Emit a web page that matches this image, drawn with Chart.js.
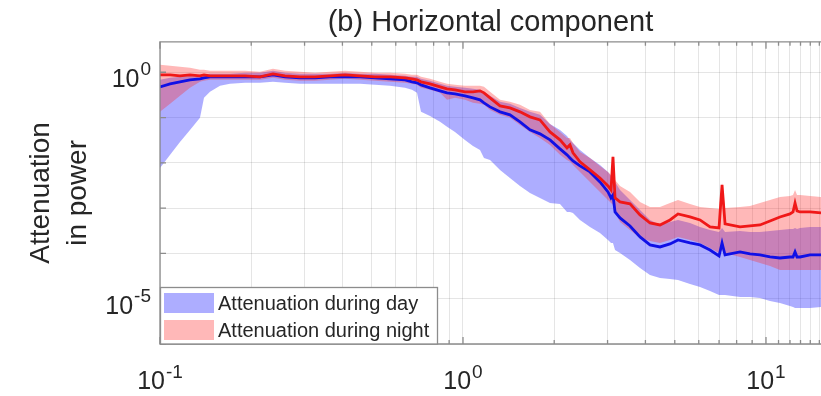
<!DOCTYPE html>
<html><head><meta charset="utf-8">
<script src="https://cdn.jsdelivr.net/npm/chart.js@4/dist/chart.umd.min.js"></script>
<style>html,body{margin:0;padding:0;background:#fff;overflow:hidden}</style>
</head><body>
<canvas id="c" width="821" height="396"></canvas>
<script>
// Frequency (Hz) sample points
const freq = [0.1,0.108,0.1164,0.1256,0.1355,0.1397,0.1462,0.1578,0.1702,0.1908,
0.2138,0.236,0.2586,0.2897,0.3248,0.364,0.4079,0.4572,0.5124,0.5742,
0.6436,0.6787,0.705,0.7268,0.7783,0.8398,0.8857,0.941,1.015,1.079,
1.138,1.173,1.228,1.325,1.429,1.542,1.664,1.795,1.937,2.09,
2.204,2.255,2.307,2.433,2.625,2.832,3.01,3.08,3.126,3.175,
3.298,3.558,3.839,4.142,4.469,4.822,5.124,5.614,6.057,6.535,
6.999,7.161,7.326,8.209,8.857,9.555,10.31,11.12,12.0,12.28,
12.47,12.66,12.95,13.98,15.19];

const dayMedian = [0.476,0.554,0.614,0.679,0.715,0.752,0.791,0.791,0.791,0.791,
0.791,0.876,0.791,0.752,0.752,0.791,0.791,0.791,0.752,0.715,
0.679,0.614,0.583,0.527,0.452,0.388,0.351,0.333,0.301,0.272,
0.2456,0.2108,0.1719,0.1334,0.1145,0.0802,0.0534,0.0436,0.0321,0.0203,
0.0150,0.0128,0.0110,0.00855,0.0063,0.00379,0.00228,0.00168,0.00195,0.000823,
0.000607,0.000404,0.000231,0.000154,0.000139,0.000162,0.000198,0.00017,0.000154,0.000119,
8.78e-5,1.7e-4,9.24e-5,1.08e-4,9.72e-5,9.24e-5,8.34e-5,7.93e-5,8.34e-5,8.34e-5,
1.08e-4,8.34e-5,8.34e-5,9.24e-5,9.24e-5];

const dayLow = [0.00772,0.0150,0.029,0.0534,0.0983,0.272,0.369,0.501,0.554,0.583,
0.583,0.614,0.583,0.554,0.554,0.554,0.554,0.554,0.527,0.501,
0.452,0.409,0.351,0.1334,0.1088,0.0802,0.0622,0.0482,0.0321,0.0236,
0.0193,0.0128,0.0116,0.00697,0.00464,0.00309,0.00216,0.00168,0.0013,0.00124,
0.000823,0.000823,0.000782,0.000548,0.000384,0.000283,0.000198,0.00017,0.00017,0.000119,
0.000102,7.16e-5,4.77e-5,3.34e-5,2.87e-5,2.72e-5,2.59e-5,2.11e-5,1.81e-5,1.48e-5,
1.21e-5,1.21e-5,1.21e-5,1.09e-5,1.09e-5,1.04e-5,8.9e-6,8.0e-6,6.9e-6,6.6e-6,
6.2e-6,6.2e-6,6.2e-6,6.2e-6,6.6e-6];

const dayHigh = [0.679,0.752,0.791,0.833,0.876,0.876,0.922,0.922,0.922,0.970,
0.970,1.074,0.970,0.922,0.922,0.922,0.970,0.922,0.922,0.876,
0.833,0.791,0.791,0.715,0.646,0.554,0.501,0.476,0.452,0.430,
0.409,0.369,0.301,0.2218,0.2003,0.1634,0.1334,0.1145,0.0724,0.0534,
0.0393,0.0321,0.0275,0.0193,0.0128,0.009,0.0063,0.00514,0.00514,0.00379,
0.00252,0.00152,0.000911,0.000548,0.000425,0.000495,0.000548,0.00047,0.000384,0.000329,
0.000298,0.000365,0.000298,0.000313,0.000298,0.000298,0.000313,0.000329,0.000347,0.000347,
0.000365,0.000347,0.000365,0.000384,0.000384];

const nightMedian = [0.876,0.876,0.833,0.876,0.833,0.876,0.833,0.833,0.833,0.833,
0.791,0.922,0.833,0.791,0.791,0.833,0.876,0.833,0.791,0.791,
0.752,0.715,0.679,0.614,0.554,0.476,0.430,0.409,0.369,0.369,
0.388,0.351,0.272,0.1809,0.1634,0.1334,0.1034,0.0888,0.0482,0.0321,
0.0214,0.0249,0.0166,0.0105,0.00697,0.00464,0.00309,0.00252,0.0135,0.00168,
0.00137,0.00124,0.000707,0.00047,0.000425,0.000548,0.000743,0.000638,0.000548,0.000384,
0.000365,0.00325,0.000447,0.000384,0.000404,0.000425,0.000521,0.000638,0.000743,0.000823,
0.0013,0.000866,0.000823,0.000823,0.000782];

const nightLow = [0.1334,0.2003,0.301,0.452,0.614,0.646,0.679,0.679,0.679,0.679,
0.679,0.752,0.679,0.646,0.646,0.679,0.715,0.679,0.646,0.614,
0.583,0.554,0.527,0.452,0.409,0.351,0.2456,0.272,0.2456,0.2108,
0.2003,0.1904,0.1476,0.1145,0.0983,0.0688,0.0482,0.0355,0.0249,0.015,
0.0116,0.0105,0.009,0.0063,0.00379,0.00228,0.00152,0.0013,0.00118,0.000823,
0.000495,0.000329,0.000219,0.000188,0.00017,0.000198,0.000231,0.000198,0.00017,0.000132,
0.000102,0.000119,0.000102,8.34e-5,7.16e-5,6.15e-5,5.28e-5,4.31e-5,4.31e-5,4.31e-5,
4.31e-5,4.31e-5,4.31e-5,4.31e-5,4.31e-5];

const nightHigh = [1.457,1.385,1.316,1.251,1.130,1.130,1.074,1.074,1.074,1.074,
1.020,1.189,1.074,1.020,0.970,1.020,1.074,1.020,0.970,0.970,
0.922,0.876,0.876,0.791,0.715,0.614,0.554,0.527,0.501,0.501,
0.501,0.476,0.369,0.2456,0.2218,0.1904,0.1476,0.1334,0.0724,0.0482,
0.0355,0.0355,0.0275,0.0174,0.0128,0.00855,0.0063,0.00541,0.015,0.00419,
0.00309,0.00228,0.00137,0.00106,0.00106,0.0013,0.00152,0.00124,0.00106,0.00101,
0.000959,0.0036,0.00101,0.00106,0.00112,0.0013,0.00152,0.00177,0.00186,0.00195,
0.00252,0.00195,0.00195,0.00186,0.00177];

const xTickValues = [0.1,0.2,0.3,0.4,0.5,0.6,0.7,0.8,0.9,1,2,3,4,5,6,7,8,9,10,11,12,13,14,15];
const xTickLabels = [[0.1,'-1'],[1,'0'],[10,'1']];   // shown as 10^exponent
const yTickValues = [1e-6,1e-5,1e-4,1e-3,1e-2,1e-1,1];
const yTickLabels = [[1,'0'],[1e-5,'-5']];
const legendLabels = ['Attenuation during day','Attenuation during night'];

const DAY_BAND = 'rgba(60,60,255,0.42)';
const NIGHT_BAND = 'rgba(255,40,40,0.33)';
const FONT = "'Liberation Sans', Arial, sans-serif";
const TEXT = '#262626';

Chart.defaults.font.family = FONT;
Chart.defaults.color = TEXT;

const pts = arr => freq.map((f,i)=>({x:f,y:arr[i]}));
const findLabel = (table, v) => { for (const [k,s] of table) if (Math.abs(v-k) < k*1e-6) return s; return null; };
const isDecade = v => Math.abs(Math.log10(v) - Math.round(Math.log10(v))) < 1e-6;

function drawPow(ctx, exp, x, baseY, expY, align){
  ctx.font = '25px ' + FONT;
  const wb = ctx.measureText('10').width;
  ctx.font = '19px ' + FONT;
  const we = ctx.measureText(exp).width;
  const w = wb + 1 + we;
  const x0 = align === 'right' ? x - w : x - w/2;
  ctx.textAlign = 'left'; ctx.textBaseline = 'alphabetic';
  ctx.font = '25px ' + FONT; ctx.fillText('10', x0, baseY);
  ctx.font = '19px ' + FONT; ctx.fillText(exp, x0 + wb + 1, expY);
}

const framePlugin = {
  id:'frame',
  afterDatasetsDraw(chart){
    const {ctx, chartArea:a, scales:{x,y}} = chart;
    ctx.save();
    ctx.strokeStyle = '#8c8c8c'; ctx.lineWidth = 1.3;
    ctx.beginPath();
    x.ticks.forEach(t=>{
      const px = x.getPixelForValue(t.value);
      const L = isDecade(t.value) ? 7 : 4;
      ctx.moveTo(px,a.bottom); ctx.lineTo(px,a.bottom-L);
      ctx.moveTo(px,a.top); ctx.lineTo(px,a.top+L);
    });
    y.ticks.forEach(t=>{
      const py = y.getPixelForValue(t.value);
      ctx.moveTo(a.left,py); ctx.lineTo(a.left+6,py);
    });
    ctx.stroke();
    ctx.beginPath();
    ctx.moveTo(a.right+5, a.top); ctx.lineTo(a.left, a.top); ctx.lineTo(a.left, a.bottom); ctx.lineTo(a.right+5, a.bottom);
    ctx.stroke();
    // tick labels as 10 with superscript exponent
    ctx.fillStyle = TEXT;
    x.ticks.forEach(t=>{
      const e = findLabel(xTickLabels, t.value);
      if (e === null) return;
      drawPow(ctx, e, x.getPixelForValue(t.value), a.bottom + 45, a.bottom + 34, 'center');
    });
    y.ticks.forEach(t=>{
      const e = findLabel(yTickLabels, t.value);
      if (e === null) return;
      const py = y.getPixelForValue(t.value);
      drawPow(ctx, e, a.left - 9, py + 15, py + 3, 'right');
    });
    ctx.restore();
  }
};

const legendPlugin = {
  id:'bandLegend',
  afterDraw(chart){
    const {ctx, chartArea:a} = chart;
    const items = chart.data.datasets.filter(d=>d.legendEntry);
    const x0 = a.left, w = 277, h = 57, y0 = a.bottom - h;
    ctx.save();
    ctx.fillStyle = '#fff';
    ctx.fillRect(x0, y0, w, h);
    ctx.strokeStyle = '#8c8c8c'; ctx.lineWidth = 1.3;
    ctx.strokeRect(x0+0.5, y0+0.5, w, h-0.5);
    ctx.font = '20px ' + FONT;
    ctx.textBaseline = 'middle'; ctx.textAlign = 'left';
    items.forEach((d,i)=>{
      const cy = y0 + 16 + i*27;
      ctx.fillStyle = d.backgroundColor;
      ctx.fillRect(x0+4, cy-10, 50, 20);
      ctx.fillStyle = TEXT;
      ctx.fillText(d.legendEntry, x0+58, cy+1);
    });
    ctx.restore();
  }
};

new Chart(document.getElementById('c'), {
  type:'line',
  data:{
    datasets:[
      {data:pts(dayLow), borderWidth:0, pointRadius:0, pointHitRadius:0, fill:false, order:5, backgroundColor:'transparent'},
      {data:pts(dayHigh), borderWidth:0, pointRadius:0, pointHitRadius:0, fill:'-1', order:4, backgroundColor:DAY_BAND, legendEntry:legendLabels[0]},
      {data:pts(nightLow), borderWidth:0, pointRadius:0, pointHitRadius:0, fill:false, order:3, backgroundColor:'transparent'},
      {data:pts(nightHigh), borderWidth:0, pointRadius:0, pointHitRadius:0, fill:'-1', order:2, backgroundColor:NIGHT_BAND, legendEntry:legendLabels[1]},
      {data:pts(dayMedian), borderColor:'#1010e6', borderWidth:2.8, pointRadius:0, pointHitRadius:0, fill:false, order:1},
      {data:pts(nightMedian), borderColor:'#f01818', borderWidth:2.8, pointRadius:0, pointHitRadius:0, fill:false, order:0}
    ]
  },
  options:{
    responsive:false, animation:false, devicePixelRatio:1,
    layout:{padding:0, autoPadding:false},
    plugins:{
      legend:{display:false}, tooltip:{enabled:false},
      title:{display:true, text:'(b) Horizontal component', fullSize:false,
        font:{size:29, weight:'normal'}, color:TEXT, padding:{top:6,bottom:1}}
    },
    scales:{
      x:{type:'logarithmic', min:0.1, max:15.19,
        afterBuildTicks:s=>{ s.ticks = xTickValues.map(v=>({value:v})); },
        afterFit:s=>{ s.height = 52; },
        ticks:{display:false, autoSkip:false, maxRotation:0},
        grid:{color:'rgba(0,0,0,0.1)', drawTicks:false, lineWidth:1},
        border:{display:false}
      },
      y:{type:'logarithmic', min:1e-6, max:4.7,
        afterBuildTicks:s=>{ s.ticks = yTickValues.map(v=>({value:v})); },
        afterFit:s=>{ s.width = 160; },
        ticks:{display:false, autoSkip:false},
        grid:{color:'rgba(0,0,0,0.1)', drawTicks:false, lineWidth:1},
        border:{display:false},
        title:{display:true, text:['Attenuation','in power'], font:{size:28, lineHeight:1.35},
          color:TEXT, padding:{top:22,bottom:0}}
      }
    }
  },
  plugins:[framePlugin, legendPlugin]
});
</script>
</body></html>
